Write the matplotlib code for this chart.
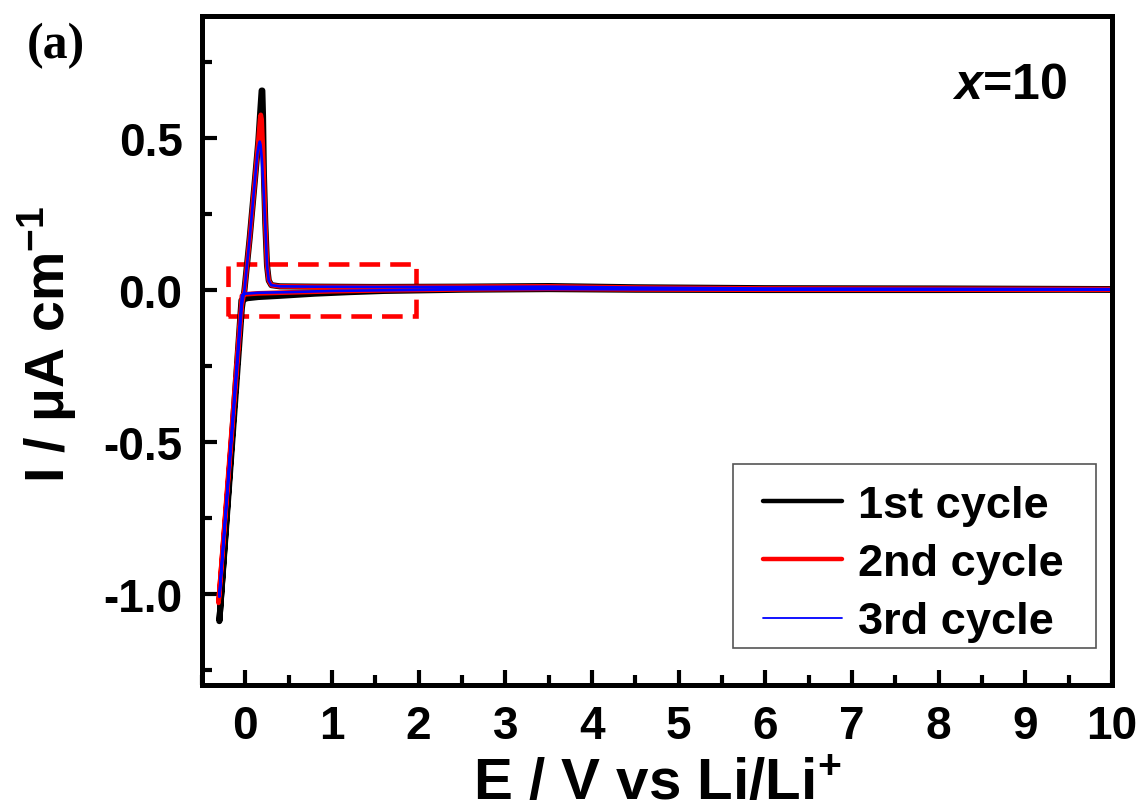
import matplotlib
matplotlib.use("Agg")
import matplotlib.pyplot as plt
from matplotlib.patches import Rectangle
from matplotlib.ticker import MultipleLocator

plt.rcParams['font.family'] = ['Liberation Sans', 'DejaVu Sans']
plt.rcParams['font.weight'] = 'bold'
plt.rcParams['axes.unicode_minus'] = False
plt.rcParams['mathtext.fontset'] = 'custom'
plt.rcParams['mathtext.rm'] = 'Liberation Sans'
plt.rcParams['mathtext.bf'] = 'Liberation Sans:bold'
plt.rcParams['mathtext.it'] = 'Liberation Sans:italic:bold'
plt.rcParams['mathtext.default'] = 'bf'

# cycle 1: cathodic sweep 10 V -> -0.3 V, then anodic sweep back to 10 V
E1 = [10, 8, 6, 4.5, 3.5, 2.5, 1.6, 1.2, 0.8, 0.4, 0.15, 0.02, -0.045, -0.30,
      -0.04, -0.01, 0.05, 0.11, 0.15, 0.175, 0.188, 0.196, 0.204, 0.214, 0.23,
      0.25, 0.27, 0.30, 0.4, 0.8, 1.5, 2.5, 3.5, 4.5, 6, 8, 10]
I1 = [0.000, -0.001, -0.001, 0.000, 0.002, 0.000, -0.004, -0.008, -0.013, -0.020,
      -0.024, -0.028, -0.035, -1.09,
      -0.06, 0.0, 0.17, 0.36, 0.49, 0.60, 0.655, 0.655, 0.57, 0.38, 0.22,
      0.08, 0.03, 0.015, 0.011, 0.010, 0.009, 0.010, 0.012, 0.008, 0.005, 0.004, 0.002]

# cycle 2
E2 = [10, 8, 6, 4.5, 3.5, 2.5, 1.6, 1.0, 0.5, 0.15, 0.0, -0.04, -0.31,
      -0.04, -0.01, 0.05, 0.11, 0.15, 0.17, 0.178, 0.188, 0.20, 0.214, 0.23,
      0.25, 0.27, 0.30, 0.4, 0.8, 1.5, 2.5, 3.5, 4.5, 6, 8, 10]
I2 = [0.000, 0.000, 0.000, 0.001, 0.003, 0.001, -0.002, -0.005, -0.009, -0.012,
      -0.015, -0.020, -1.03,
      -0.05, 0.0, 0.17, 0.36, 0.49, 0.56, 0.575, 0.56, 0.48, 0.36, 0.22,
      0.08, 0.03, 0.015, 0.011, 0.010, 0.009, 0.010, 0.011, 0.007, 0.004, 0.003, 0.002]

# cycle 3
E3 = [10, 8, 6, 4.5, 3.5, 2.5, 1.6, 1.0, 0.5, 0.15, 0.0, -0.04, -0.30,
      -0.04, -0.01, 0.05, 0.11, 0.14, 0.158, 0.166, 0.176, 0.19, 0.21, 0.23,
      0.25, 0.27, 0.30, 0.4, 0.8, 1.5, 2.5, 3.5, 4.5, 6, 8, 10]
I3 = [0.000, 0.000, 0.000, 0.001, 0.002, 0.001, -0.002, -0.004, -0.008, -0.010,
      -0.013, -0.018, -1.01,
      -0.05, 0.0, 0.17, 0.36, 0.45, 0.48, 0.487, 0.475, 0.43, 0.33, 0.21,
      0.08, 0.03, 0.015, 0.011, 0.010, 0.009, 0.009, 0.010, 0.007, 0.004, 0.003, 0.002]

labels = ['1st cycle', '2nd cycle', '3rd cycle']
colors = ['black', 'red', 'blue']
widths = [4.4, 3.4, 1.9]
legend_widths = [3.2, 3.2, 1.3]

W, H = 1142, 812
fig = plt.figure(figsize=(W / 100, H / 100), dpi=100)
ax = fig.add_axes([0.1769, 0.1552, 0.7968, 0.8238])

for E, I, lab, c, w in zip([E1, E2, E3], [I1, I2, I3], labels, colors, widths):
    ax.plot(E, I, color=c, lw=w, label=lab, solid_joinstyle='round',
            solid_capstyle='round')

# zoomed region marker
ax.add_patch(Rectangle((-0.2, -0.085), 2.17, 0.17, fill=False, edgecolor='red',
                       lw=3.3, ls=(0, (4.5, 2.2))))

ax.set_xlim(-0.5, 10)
ax.set_ylim(-1.3, 0.9)
ax.xaxis.set_major_locator(MultipleLocator(1))
ax.xaxis.set_minor_locator(MultipleLocator(0.5))
ax.yaxis.set_minor_locator(MultipleLocator(0.25))
ax.set_yticks([-1.0, -0.5, 0.0, 0.5])
ax.set_yticklabels(['-1.0', '-0.5', '0.0', '0.5'])

for s in ax.spines.values():
    s.set_linewidth(3.6)
ax.tick_params(which='both', direction='in', top=False, right=False, width=3,
               labelsize=33)
ax.tick_params(which='major', length=11, pad=14)
ax.tick_params(which='minor', length=7)

ax.set_xlabel('E / V vs Li/Li$^{+}$', fontsize=42, fontweight='bold')
ax.xaxis.set_label_coords(0.5, -0.107)
ax.set_ylabel(r'I / $\mathrm{\mu}$A cm$^{-1}$', fontsize=40, fontweight='bold')
ax.yaxis.set_label_coords(-0.135, 0.51)

ax.text(0.950, 0.897, '$\\mathit{x}$=10', transform=ax.transAxes, fontsize=36,
        ha='right', va='center')
fig.text(0.049, 0.943, '(a)', fontsize=36, fontweight='bold',
         family='Liberation Serif', va='center', ha='center')

# legend entries without their own frame; the box is drawn separately
leg = ax.legend(loc='upper left', bbox_to_anchor=(763 / W, 1 - 486 / H),
                bbox_transform=fig.transFigure, borderaxespad=0, frameon=False,
                fontsize=32.5, handlelength=1.75, handletextpad=0.35,
                labelspacing=0.38, borderpad=0)
for h, w in zip(leg.get_lines(), legend_widths):
    h.set_linewidth(w)
fig.patches.append(Rectangle((733 / W, 1 - 649 / H), (1096 - 733) / W, (649 - 465) / H,
                             transform=fig.transFigure, fill=False,
                             edgecolor='#555555', lw=1.2, zorder=5))

fig.savefig('out.png', dpi=100)
